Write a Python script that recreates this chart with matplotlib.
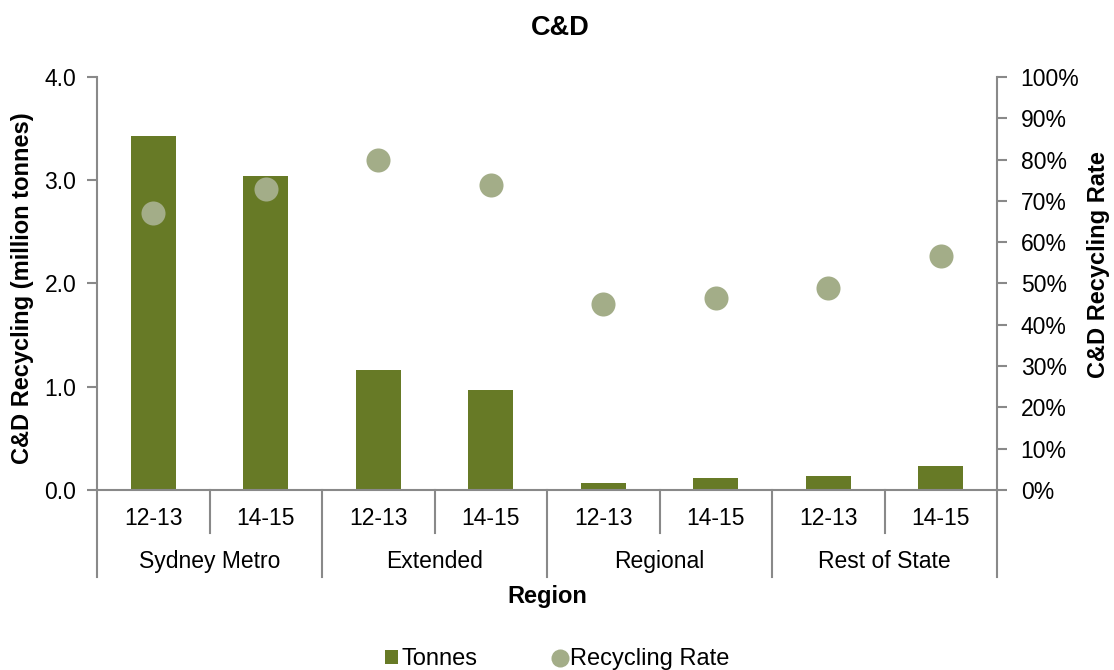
import matplotlib
matplotlib.use("Agg")
import matplotlib.pyplot as plt
from matplotlib.lines import Line2D
from matplotlib.patches import Patch
import matplotlib.transforms as mtransforms

plt.rcParams['font.family'] = ['Liberation Sans', 'DejaVu Sans']

years = ["12-13", "14-15", "12-13", "14-15", "12-13", "14-15", "12-13", "14-15"]
regions = ["Sydney Metro", "Extended", "Regional", "Rest of State"]
tonnes = [3.43, 3.04, 1.16, 0.97, 0.07, 0.12, 0.14, 0.23]
rate = [0.67, 0.729, 0.799, 0.738, 0.45, 0.465, 0.489, 0.567]

bar_color = "#677a26"
pt_color = "#a3ad88"
axis_color = "#898989"

fig = plt.figure(figsize=(11.14, 6.70), dpi=100)
ax = fig.add_axes([0.0871, 0.2687, 0.8079, 0.6164])
ax2 = ax.twinx()

x = list(range(len(tonnes)))
ax.bar(x, tonnes, width=0.4, color=bar_color, zorder=2)
ax2.scatter(x, rate, s=300, color=pt_color, zorder=3, linewidths=0)

ax.set_xlim(-0.5, len(x) - 0.5)
ax.set_ylim(0, 4.0)
ax2.set_ylim(0, 1.0)
ax.set_yticks([0, 1, 2, 3, 4])
ax.set_yticklabels([f"{v:.1f}" for v in [0, 1, 2, 3, 4]])
ax2.set_yticks([i / 10 for i in range(11)])
ax2.set_yticklabels([f"{i*10}%" for i in range(11)])

for a in (ax, ax2):
    a.spines["top"].set_visible(False)
    for s in ("left", "right", "bottom"):
        a.spines[s].set_color(axis_color)
        a.spines[s].set_linewidth(1.5)
    a.tick_params(axis="y", colors=axis_color, labelcolor="black", labelsize=16.5,
                  length=7, width=1.5, direction="out")
ax.tick_params(axis="y", pad=8)
ax2.tick_params(axis="y", pad=10)
ax2.spines["left"].set_visible(False)
ax.spines["right"].set_visible(False)
ax2.spines["bottom"].set_visible(False)
ax.set_xticks([])
ax2.set_xticks([])

fig.text(23 / 1114, 1 - 288 / 670, "C&D Recycling (million tonnes)", rotation=90,
         ha="center", va="center", fontsize=17, fontweight="bold")
fig.text(1099 / 1114, 1 - 265 / 670, "C&D Recycling Rate", rotation=90,
         ha="center", va="center", fontsize=17, fontweight="bold")

# Multi-level category axis
trans = mtransforms.blended_transform_factory(ax.transData, ax.transAxes)
n = len(x)
for i in range(n + 1):
    xb = i - 0.5
    y0 = -0.2107 if i % 2 == 0 else -0.104
    ax.plot([xb, xb], [0, y0], transform=trans, color=axis_color, lw=1.5,
            clip_on=False, zorder=1)
for i, lab in enumerate(years):
    ax.text(i, -0.07, lab, transform=trans, ha="center", va="center", fontsize=16.5)
for j, reg in enumerate(regions):
    ax.text(2 * j + 0.5, -0.174, reg, transform=trans, ha="center", va="center", fontsize=16.5)
ax.text(0.5, -0.259, "Region", transform=ax.transAxes, ha="center", va="center",
        fontsize=17, fontweight="bold")

fig.text(0.503, 0.958, "C&D", ha="center", va="center", fontsize=19.5, fontweight="bold")

handles = [
    Patch(facecolor=bar_color, edgecolor="none", label="Tonnes"),
    Line2D([0], [0], marker="o", color="none", markerfacecolor=pt_color,
           markeredgecolor="none", markersize=13, label="Recycling Rate"),
]
fig.legend(handles=handles, loc="center", bbox_to_anchor=(0.5, 0.016), ncol=2,
           frameon=False, fontsize=17, handlelength=0.55, handletextpad=0.15,
           columnspacing=3.2, handleheight=0.55)

fig.savefig("out.png", dpi=100)
